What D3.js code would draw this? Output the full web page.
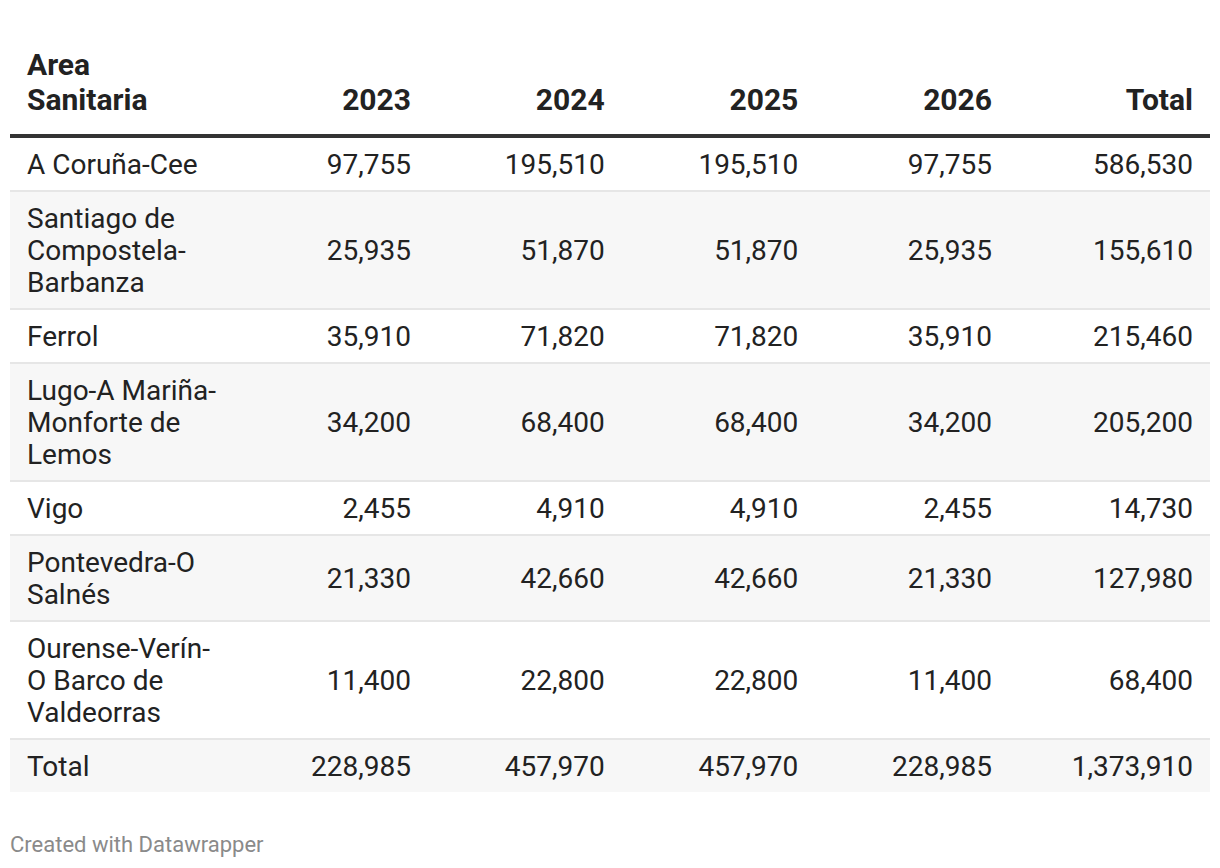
<!DOCTYPE html>
<html>
<head>
<meta charset="utf-8">
<script src="https://cdn.jsdelivr.net/npm/d3@7"></script>
<style>
  html, body { margin: 0; padding: 0; background: #fff; }
  svg { display: block; }
  text { font-family: Roboto, "Noto Sans", sans-serif; }
</style>
</head>
<body>
<svg id="chart" width="1220" height="868"></svg>
<script>
const headerLabel = "Area Sanitaria";
const years = ["2023", "2024", "2025", "2026"];
const totalLabel = "Total";
const areas = [
  "A Coruña-Cee",
  "Santiago de Compostela-Barbanza",
  "Ferrol",
  "Lugo-A Mariña-Monforte de Lemos",
  "Vigo",
  "Pontevedra-O Salnés",
  "Ourense-Verín-O Barco de Valdeorras"
];
const v2023 = [97755, 25935, 35910, 34200, 2455, 21330, 11400];
const v2024 = [195510, 51870, 71820, 68400, 4910, 42660, 22800];
const v2025 = [195510, 51870, 71820, 68400, 4910, 42660, 22800];
const v2026 = [97755, 25935, 35910, 34200, 2455, 21330, 11400];
const vTotal = [586530, 155610, 215460, 205200, 14730, 127980, 68400];
const totalsRow = [228985, 457970, 457970, 228985, 1373910];
const footer = "Created with Datawrapper";

const svg = d3.select("#chart");
const fmt = d3.format(",");

const tableLeft = 10, tableRight = 1210;
const textLeft = 27;
const bodySize = 28, lineH = 32, headSize = 30;
const ink = "#222222";

// column right edges (text anchor end)
const xYear = d3.scalePoint().domain(years).range([411, 992]);
const xCol = c => c === totalLabel ? 1193 : xYear(c);
const columns = years.concat([totalLabel]);

// rows
const rows = areas.map((a, i) => ({
  label: a,
  values: [v2023[i], v2024[i], v2025[i], v2026[i], vTotal[i]]
}));
rows.push({ label: "Total", values: totalsRow });

// text wrapping helper
const measurer = svg.append("text").attr("font-size", bodySize).attr("visibility", "hidden");
function textWidth(s) { measurer.text(s); return measurer.node().getComputedTextLength(); }
function wrap(label, maxW) {
  const tokens = label.match(/[^\s-]+-?\s*|\s+/g) || [label];
  const lines = [];
  let cur = "";
  tokens.forEach(t => {
    const cand = cur + t;
    if (cur && textWidth(cand.trimEnd()) > maxW) {
      lines.push(cur.trimEnd());
      cur = t;
    } else cur = cand;
  });
  if (cur) lines.push(cur.trimEnd());
  return lines;
}
rows.forEach(r => { r.lines = wrap(r.label, 194); });
measurer.remove();

// header
const head = svg.append("g").attr("fill", ink).attr("font-weight", 700).attr("font-size", headSize);
const headLines = ["Area", "Sanitaria"];
head.selectAll("text.h0").data(headLines).join("text")
  .attr("x", textLeft).attr("y", (d, i) => 75 + i * 35).text(d => d);
head.selectAll("text.hc").data(columns).join("text")
  .attr("x", d => xCol(d)).attr("y", 110).attr("text-anchor", "end").text(d => d);

svg.append("rect").attr("x", tableLeft).attr("y", 134).attr("width", tableRight - tableLeft)
  .attr("height", 4).attr("fill", "#333333");

// body rows layout
let y = 138;
rows.forEach((r, i) => {
  r.top = y;
  r.h = 52 + (r.lines.length - 1) * lineH;
  y += r.h;
  r.border = i < rows.length - 1;
  if (r.border) y += 2;
});

const body = svg.append("g");
const rg = body.selectAll("g.row").data(rows).join("g").attr("class", "row");
rg.append("rect")
  .attr("x", tableLeft).attr("y", d => d.top)
  .attr("width", tableRight - tableLeft).attr("height", d => d.h)
  .attr("fill", (d, i) => i % 2 ? "#f7f7f7" : "#ffffff");
rg.filter(d => d.border).append("rect")
  .attr("x", tableLeft).attr("y", d => d.top + d.h)
  .attr("width", tableRight - tableLeft).attr("height", 2)
  .attr("fill", "#e6e6e6");

rg.each(function (d) {
  const g = d3.select(this);
  const n = d.lines.length;
  g.selectAll("text.lab").data(d.lines).join("text")
    .attr("class", "lab")
    .attr("x", textLeft)
    .attr("y", (l, j) => d.top + 36 + j * lineH)
    .attr("font-size", bodySize).attr("fill", ink)
    .text(l => l);
  const midBase = d.top + 36 + (n - 1) * lineH / 2;
  g.selectAll("text.val").data(d.values).join("text")
    .attr("class", "val")
    .attr("x", (v, j) => xCol(columns[j]))
    .attr("y", midBase)
    .attr("text-anchor", "end")
    .attr("font-size", bodySize).attr("fill", ink)
    .text(v => fmt(v));
});

svg.append("text").attr("x", 10).attr("y", 852)
  .attr("font-size", 22).attr("fill", "#8a8a8a").text(footer);
</script>
</body>
</html>
